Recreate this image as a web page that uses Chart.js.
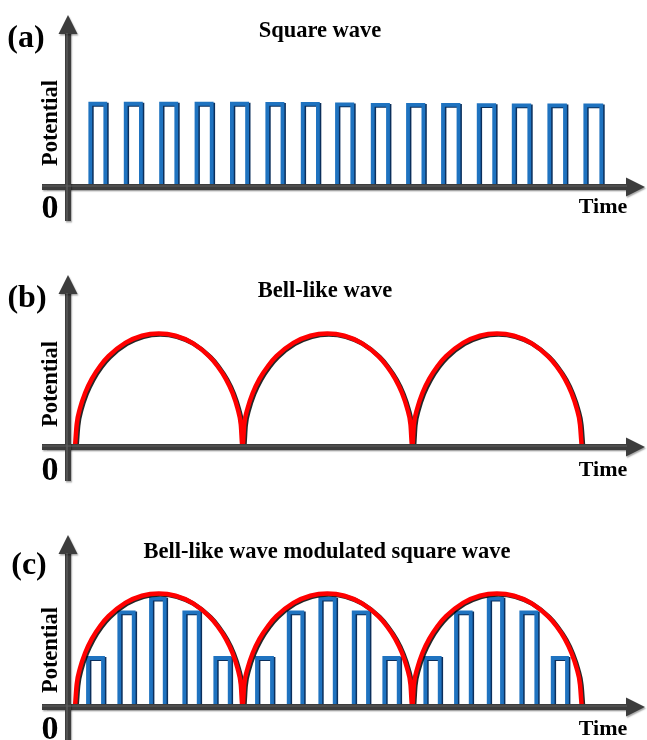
<!DOCTYPE html>
<html>
<head>
<meta charset="utf-8">
<script src="https://cdn.jsdelivr.net/npm/chart.js@4.4.1/dist/chart.umd.min.js"></script>
<style>
  html, body { margin: 0; padding: 0; background: #ffffff; width: 647px; height: 740px; overflow: hidden; }
  body { position: relative; }
  canvas { position: absolute; left: 0; }
</style>
</head>
<body>
<canvas id="panelA" width="647" height="260" style="top:-20px"></canvas>
<canvas id="panelB" width="647" height="260" style="top:240px"></canvas>
<canvas id="panelC" width="647" height="260" style="top:500px"></canvas>
<script>
// ---------- data (time in arbitrary units, potential in arbitrary units) ----------
const timeRange = [-2.6, 57.7];
const potentialRange = [0, 10];

// (a) square wave: rising edge, falling edge, level of each pulse
const squareRise  = [2.23, 5.77, 9.31, 12.85, 16.39, 19.93, 23.47, 26.9, 30.47, 34.0, 37.5, 41.07, 44.57, 48.13, 51.73];
const squareFall  = [3.73, 7.29, 10.83, 14.37, 17.91, 21.45, 24.99, 28.43, 32.0, 35.54, 39.05, 42.62, 46.13, 49.7, 53.33];
const squareLevel = [4.84, 4.84, 4.84, 4.84, 4.84, 4.83, 4.83, 4.8, 4.78, 4.78, 4.77, 4.76, 4.75, 4.75, 4.75];

// (b) bell-like wave: sampled points of the three arches
const bellTime = [0.7, 0.87, 1.2, 1.71, 2.38, 3.21, 4.05, 5.73, 7.4, 9.08, 10.75, 12.43, 14.1, 14.94, 15.78, 16.45, 16.95, 17.28,
                  17.45, 17.62, 17.96, 18.47, 19.15, 20.0, 20.84, 22.54, 24.24, 25.94, 27.63, 29.33, 31.03, 31.87, 32.72, 33.4, 33.91, 34.25,
                  34.42, 34.59, 34.93, 35.44, 36.12, 36.96, 37.81, 39.51, 41.2, 42.9, 44.59, 46.29, 47.98, 48.83, 49.68, 50.35, 50.86, 51.2, 51.37];
const bellPotential = [0, 1.31, 2.25, 3.14, 3.96, 4.71, 5.28, 6.05, 6.47, 6.6, 6.47, 6.05, 5.28, 4.71, 3.96, 3.14, 2.25, 1.31,
                  0, 1.31, 2.25, 3.14, 3.96, 4.71, 5.28, 6.05, 6.47, 6.6, 6.47, 6.05, 5.28, 4.71, 3.96, 3.14, 2.25, 1.31,
                  0, 1.31, 2.25, 3.14, 3.96, 4.71, 5.28, 6.05, 6.47, 6.6, 6.47, 6.05, 5.28, 4.71, 3.96, 3.14, 2.25, 1.31, 0];

// (c) bell-like wave modulated square wave
const modRise  = [2.0, 5.13, 8.3, 11.63, 14.73, 18.9, 22.07, 25.23, 28.57, 31.63, 35.73, 38.8, 42.07, 45.33, 48.47];
const modFall  = [3.5, 6.57, 9.67, 13.07, 16.17, 20.4, 23.43, 26.67, 30.0, 33.07, 37.17, 40.27, 43.4, 46.83, 49.9];
const modLevel = [2.85, 5.5, 6.3, 5.5, 2.85, 2.85, 5.5, 6.3, 5.5, 2.85, 2.85, 5.5, 6.3, 5.5, 2.85];

// ---------- helpers ----------
function pulsePoints(rise, fall, level) {
  const pts = [];
  for (let i = 0; i < rise.length; i++) {
    pts.push({x: rise[i], y: 0}, {x: rise[i], y: level[i]}, {x: fall[i], y: level[i]}, {x: fall[i], y: 0}, {x: fall[i], y: null});
  }
  return pts;
}
function curvePoints(xs, ys) { return xs.map((x, i) => ({x: x, y: ys[i]})); }

const SERIF = '"Liberation Serif", "Times New Roman", serif';

const shadowPlugin = {
  id: 'dsShadow',
  beforeDatasetDraw(chart, args) {
    const ds = chart.data.datasets[args.index];
    if (ds.shadowColor) {
      const ctx = chart.ctx;
      ctx.save();
      ctx.shadowColor = ds.shadowColor;
      ctx.shadowOffsetX = 1.5;
      ctx.shadowOffsetY = 1;
      ctx.shadowBlur = 0.5;
    }
  },
  afterDatasetDraw(chart, args) {
    const ds = chart.data.datasets[args.index];
    if (ds.shadowColor) chart.ctx.restore();
  }
};

const axesPlugin = {
  id: 'waveAxes',
  afterDatasetsDraw(chart, args, opts) {
    const ctx = chart.ctx;
    const area = chart.chartArea;
    const xs = chart.scales.x, ys = chart.scales.y;
    const x0 = xs.getPixelForValue(0);
    const y0 = ys.getPixelForValue(0);
    ctx.save();
    ctx.shadowColor = 'rgba(0,0,0,0.35)';
    ctx.shadowOffsetX = 1; ctx.shadowOffsetY = 1.5; ctx.shadowBlur = 1.5;
    ctx.strokeStyle = '#3d3d3d';
    ctx.fillStyle = '#3d3d3d';
    ctx.lineWidth = 6;
    ctx.lineCap = 'butt';
    // x axis
    ctx.beginPath();
    ctx.moveTo(area.left, y0);
    ctx.lineTo(area.right - 16, y0);
    ctx.stroke();
    ctx.beginPath();
    ctx.moveTo(area.right, y0);
    ctx.lineTo(area.right - 19, y0 - 9.5);
    ctx.lineTo(area.right - 19, y0 + 9.5);
    ctx.closePath();
    ctx.fill();
    // y axis
    ctx.beginPath();
    ctx.moveTo(x0, y0 + 34);
    ctx.lineTo(x0, area.top + 16);
    ctx.stroke();
    ctx.beginPath();
    ctx.moveTo(x0, area.top);
    ctx.lineTo(x0 - 9.5, area.top + 19);
    ctx.lineTo(x0 + 9.5, area.top + 19);
    ctx.closePath();
    ctx.fill();
    ctx.restore();
    // highlight along axes
    ctx.save();
    ctx.strokeStyle = 'rgba(120,120,120,0.6)';
    ctx.lineWidth = 1.2;
    ctx.beginPath();
    ctx.moveTo(area.left, y0 - 1);
    ctx.lineTo(area.right - 18, y0 - 1);
    ctx.moveTo(x0 - 1, y0 + 34);
    ctx.lineTo(x0 - 1, area.top + 18);
    ctx.stroke();
    ctx.restore();
  },
  afterDraw(chart, args, opts) {
    const ctx = chart.ctx;
    ctx.save();
    ctx.fillStyle = '#000000';
    ctx.textAlign = 'center';
    ctx.textBaseline = 'middle';
    ctx.font = 'bold 32px ' + SERIF;
    ctx.fillText(opts.panel, opts.panelX, opts.panelY);
    ctx.font = 'bold 22.5px ' + SERIF;
    ctx.fillText(opts.title, opts.titleX, opts.titleY);
    ctx.font = 'bold 22px ' + SERIF;
    ctx.fillText('Time', 603, opts.timeY);
    ctx.font = 'bold 34px ' + SERIF;
    ctx.fillText('0', 50, opts.zeroY);
    ctx.save();
    ctx.translate(51, opts.potY);
    ctx.rotate(-Math.PI / 2);
    ctx.font = 'bold 22.5px ' + SERIF;
    ctx.fillText('Potential', 0, 0);
    ctx.restore();
    ctx.restore();
  }
};

function makeChart(id, datasets, labelOpts) {
  return new Chart(document.getElementById(id), {
    type: 'line',
    data: { datasets: datasets },
    plugins: [shadowPlugin, axesPlugin],
    options: {
      responsive: false,
      animation: false,
      devicePixelRatio: 1,
      events: [],
      parsing: true,
      layout: { padding: { left: 42, right: 2, top: 35, bottom: 53 } },
      scales: {
        x: { type: 'linear', min: timeRange[0], max: timeRange[1], display: false },
        y: { type: 'linear', min: potentialRange[0], max: potentialRange[1], display: false }
      },
      elements: { point: { radius: 0 } },
      plugins: {
        legend: { display: false },
        tooltip: { enabled: false },
        waveAxes: labelOpts
      }
    }
  });
}

const blueStyle = { borderColor: '#1f73c0', borderWidth: 3.8, shadowColor: '#0b2f5c', tension: 0, spanGaps: false,
                    borderJoinStyle: 'miter', borderCapStyle: 'butt', fill: false, pointRadius: 0 };
const redStyle  = { borderColor: '#ff0000', borderWidth: 4.5, shadowColor: 'rgba(0,0,0,0.85)', cubicInterpolationMode: 'monotone',
                    fill: false, pointRadius: 0 };

makeChart('panelA', [
  Object.assign({ label: 'Square wave', data: pulsePoints(squareRise, squareFall, squareLevel), order: 1 }, blueStyle)
], { panel: '(a)', panelX: 26, panelY: 59, title: 'Square wave', titleX: 320, titleY: 51, timeY: 227, zeroY: 229, potY: 143 });

makeChart('panelB', [
  Object.assign({ label: 'Bell-like wave', data: curvePoints(bellTime, bellPotential), order: 0 }, redStyle)
], { panel: '(b)', panelX: 27, panelY: 59, title: 'Bell-like wave', titleX: 325, titleY: 51, timeY: 230, zeroY: 231, potY: 144 });

makeChart('panelC', [
  Object.assign({ label: 'Bell-like wave', data: curvePoints(bellTime, bellPotential), order: 0 }, redStyle),
  Object.assign({ label: 'Modulated square wave', data: pulsePoints(modRise, modFall, modLevel), order: 1 }, blueStyle)
], { panel: '(c)', panelX: 29, panelY: 66, title: 'Bell-like wave modulated square wave', titleX: 327, titleY: 52, timeY: 229, zeroY: 230, potY: 150 });
</script>
</body>
</html>
